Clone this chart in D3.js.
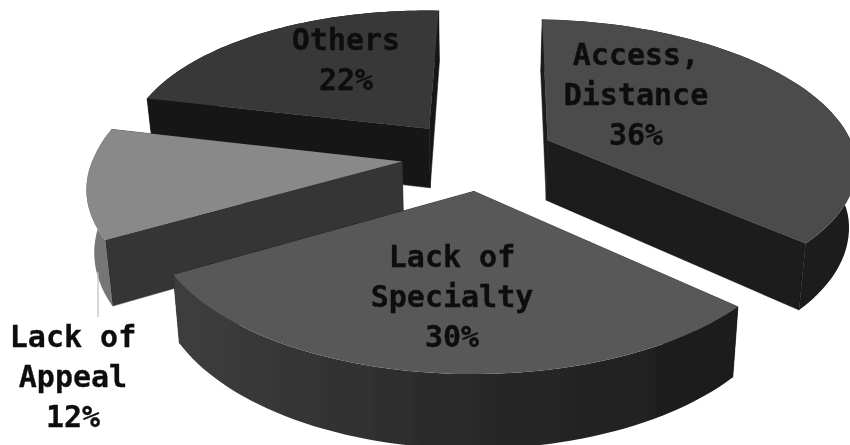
<!DOCTYPE html>
<html><head><meta charset="utf-8">
<style>html,body{margin:0;padding:0;background:#fff;overflow:hidden}</style>
<script src="https://cdn.jsdelivr.net/npm/d3@7"></script>
</head><body><svg id="c" width="850" height="445"></svg>
<script>
const categories = ["Access, Distance", "Lack of Specialty", "Lack of Appeal", "Others"];
const values = [36, 30, 12, 22];
const labelLines = [["Access,", "Distance"], ["Lack of", "Specialty"], ["Lack of", "Appeal"], ["Others"]];
const topColors = ["#4b4b4b", "#595959", "#898989", "#373737"];
const startWallColors = ["#1a1a1a", "#1c1c1c", "#343434", "#141414"];
const endWallColors = ["#1a1a1a", "#1c1c1c", "#343434", "#161616"];
const outerColors = ["#1a1a1a", "url(#specWall)", "#767676", "#141414"];
const labelAnchors = [[636, 65], [452, 267], [73, 347], [346, 50]];
const drawOrder = [3, 0, 2, 1];

const cx = 479, cy = 155, R = 335, Rx = 324, E = 82, K = 0.45, P = 0.15, S0 = 0.95, D = 64, B = 0.98, BackShift = 8;
const rot = 2.5 * Math.PI / 180;
const svg = d3.select("#c");

const defs = svg.append("defs");
defs.append("filter").attr("id", "soft").append("feGaussianBlur").attr("stdDeviation", 0.7);
const g0 = defs.append("linearGradient").attr("id", "specWall").attr("gradientUnits", "userSpaceOnUse")
  .attr("x1", 170).attr("x2", 740).attr("y1", 0).attr("y2", 0);
[[0, "#3e3e3e"], [0.23, "#353535"], [0.49, "#2a2a2a"], [0.75, "#232323"], [1, "#1a1a1a"]].forEach(s =>
  g0.append("stop").attr("offset", s[0]).attr("stop-color", s[1]));

const arcs = d3.pie().sort(null).value(d => d).startAngle(rot).endAngle(2 * Math.PI + rot)(values);
const pct = d3.format(".0f");
const total = d3.sum(values);

function project(X, Z, low) {
  const s = S0 / (1 + P * Z / R);
  const b = low ? B : 1;
  return [cx + X * s * b - BackShift * Math.max(0, Z) / R, cy - Z * K * s + (low ? D * s : 0)];
}
function apex(a, low) {
  const m = (a.startAngle + a.endAngle) / 2 - rot;
  return project(E * Math.sin(m), E * Math.cos(m), low);
}
function rim(a, t, low) {
  const m = (a.startAngle + a.endAngle) / 2 - rot;
  return project(E * Math.sin(m) + Rx * Math.sin(t), E * Math.cos(m) + R * Math.cos(t), low);
}
function arcPts(a, low) {
  const n = 60;
  return d3.range(n + 1).map(i => rim(a, a.startAngle + (a.endAngle - a.startAngle) * i / n, low));
}
const line = d3.line();

const pie = svg.append("g").attr("filter", "url(#soft)");
drawOrder.forEach(i => {
  const a = arcs[i];
  const g = pie.append("g").attr("class", "slice");
  const walls = [[a.startAngle, startWallColors[i]], [a.endAngle, endWallColors[i]]]
    .sort((p, q) => Math.cos(q[0]) - Math.cos(p[0]));
  walls.forEach(w => {
    g.append("path").attr("fill", w[1]).attr("stroke", w[1]).attr("stroke-width", 0.5)
      .attr("d", line([apex(a), rim(a, w[0]), rim(a, w[0], true), apex(a, true)]) + "Z");
  });
  g.append("path").attr("fill", outerColors[i])
    .attr("d", line(arcPts(a).concat(arcPts(a, true).reverse())) + "Z");
  g.append("path").attr("fill", topColors[i])
    .attr("d", line([apex(a)].concat(arcPts(a))) + "Z");
});

// leader from the Lack of Appeal wall to its label
const ai = categories.indexOf("Lack of Appeal");
const lx = labelAnchors[ai][0] + 25;
svg.append("line").attr("x1", lx).attr("x2", lx).attr("y1", labelAnchors[ai][1] - 75).attr("y2", labelAnchors[ai][1] - 30)
  .attr("stroke", "#bdbdbd").attr("stroke-width", 1.2);

const lab = svg.append("g").attr("filter", "url(#soft)")
  .attr("font-family", "'DejaVu Sans Mono'").attr("font-weight", "bold").attr("font-size", 30)
  .attr("text-anchor", "middle").attr("fill", "#0c0c0c").attr("stroke", "#0c0c0c").attr("stroke-width", 0.3);
categories.forEach((c, i) => {
  const t = lab.append("text").attr("x", labelAnchors[i][0]).attr("y", labelAnchors[i][1]);
  labelLines[i].concat([pct(values[i] / total * 100) + "%"]).forEach((l, j) => {
    t.append("tspan").attr("x", labelAnchors[i][0]).attr("dy", j ? 40 : 0).text(l);
  });
});
</script></body></html>
